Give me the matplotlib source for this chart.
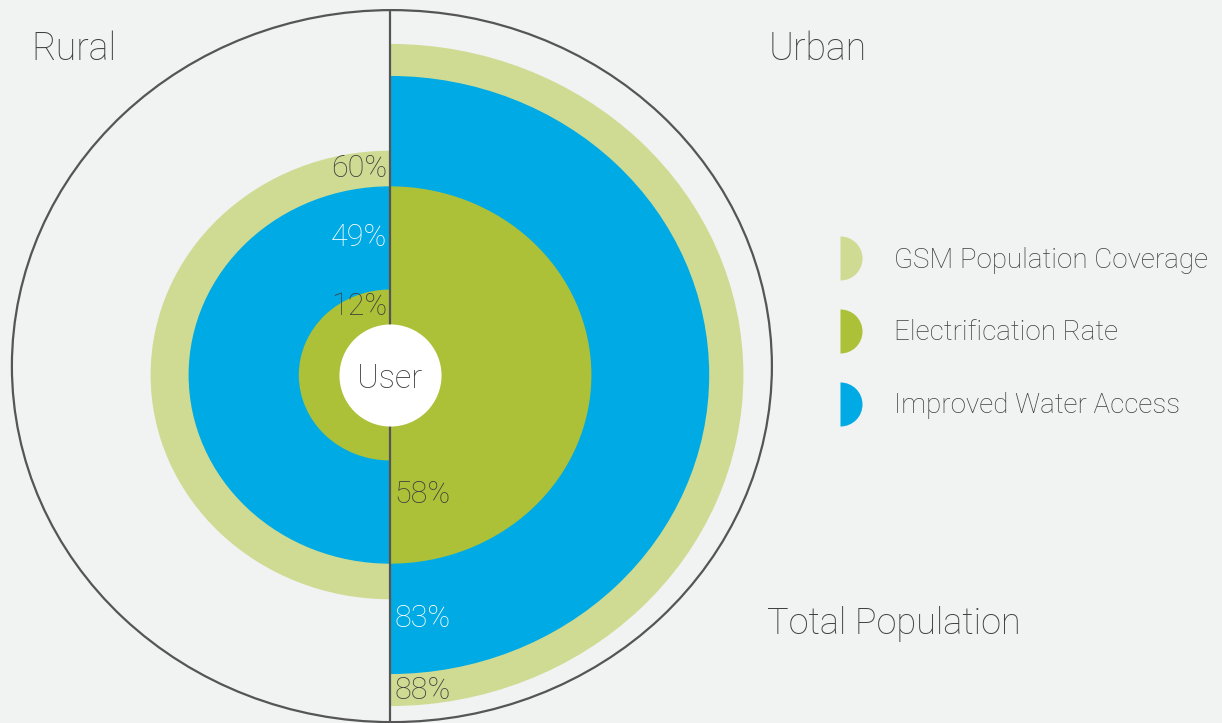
import numpy as np
import matplotlib.pyplot as plt
from matplotlib.patches import Wedge, Circle
from matplotlib.path import Path
from matplotlib.lines import Line2D

plt.rcParams['font.family'] = ['Roboto', 'DejaVu Sans']

# values
series = ['GSM Population Coverage', 'Electrification Rate', 'Improved Water Access']
rural_pct = [60, 12, 49]
urban_pct = [88, 58, 83]
# ring size as drawn, outer circle = 100
rural_radius = [63, 24, 53]
urban_radius = [93, 53, 84]
user_radius = 14.3

colors = ['#cfdb93', '#acc138', '#00aae4']
dark = '#3f3f3f'
label_colors = [dark, dark, 'white']
bg = '#f1f2f2'
line_c = '#555555'

fig = plt.figure(figsize=(12.22, 7.23), dpi=100, facecolor=bg)
ax = fig.add_axes([0, 0, 1, 1])
ax.set_facecolor(bg)
# horizontal unit is a bit wider than vertical, as in the original
ax.set_xlim(-390 / 3.8, 832 / 3.8)
ax.set_ylim(-348 / 3.56, 375 / 3.56)
ax.axis('off')


def draw_side(pcts, radii, theta1, theta2, up):
    order = list(np.argsort(radii)[::-1])
    edges = [radii[i] for i in order] + [user_radius]
    for k, i in enumerate(order):
        ax.add_patch(Wedge((0, 0), radii[i], theta1, theta2, facecolor=colors[i],
                           edgecolor='none', zorder=1))
        mid = (edges[k] + edges[k + 1]) / 2
        if up:
            ax.annotate(f'{pcts[i]}%', xy=(0, mid), xytext=(-3, 0), textcoords='offset pixels',
                        ha='right', va='center', fontsize=22, color=label_colors[i],
                        fontweight='light', zorder=4)
        else:
            ax.annotate(f'{pcts[i]}%', xy=(0, -mid), xytext=(4, 0), textcoords='offset pixels',
                        ha='left', va='center', fontsize=22, color=label_colors[i],
                        fontweight='light', zorder=4)


draw_side(rural_pct, rural_radius, 90, 270, True)
draw_side(urban_pct, urban_radius, -90, 90, False)

# outer frame and divider
frame_c = (0.5, 2.5)
ax.add_patch(Circle(frame_c, 100, facecolor='none', edgecolor=line_c, lw=1.6, zorder=2))
ax.vlines(0, -100, frame_c[1] + 100, color=line_c, lw=1.6, zorder=2)

# user dot
ax.scatter([0], [0], s=73.5 ** 2, c='white', linewidths=0, zorder=3)
ax.text(0, 0, 'User', ha='center', va='center_baseline', fontsize=23.5, color=dark,
        fontweight='light', zorder=4)

# legend with half-disc markers
arc = Path.arc(-90, 90)
half = Path(np.concatenate([arc.vertices, [[0, -1]]]),
            np.concatenate([arc.codes, [Path.CLOSEPOLY]]))
handles = [Line2D([], [], marker=half, markersize=31.7, linestyle='none',
                  markerfacecolor=c, markeredgewidth=0) for c in colors]
ax.legend(handles, series, loc='center left', bbox_to_anchor=(826.5 / 1222, 390 / 723),
          bbox_transform=fig.transFigure, frameon=False, handlelength=1.0,
          handletextpad=1.44, labelspacing=1.65, borderpad=0, borderaxespad=0,
          labelcolor=dark, prop={'size': 20, 'weight': 'light'})

fig.text(0.026, 0.917, 'Rural', fontsize=27, color=dark, fontweight='light', va='baseline')
fig.text(0.629, 0.917, 'Urban', fontsize=27, color=dark, fontweight='light', va='baseline')
fig.text(0.628, 0.123, 'Total Population', fontsize=26, color=dark, fontweight='light',
         va='baseline')

fig.savefig('out.png', dpi=100, facecolor=bg)
